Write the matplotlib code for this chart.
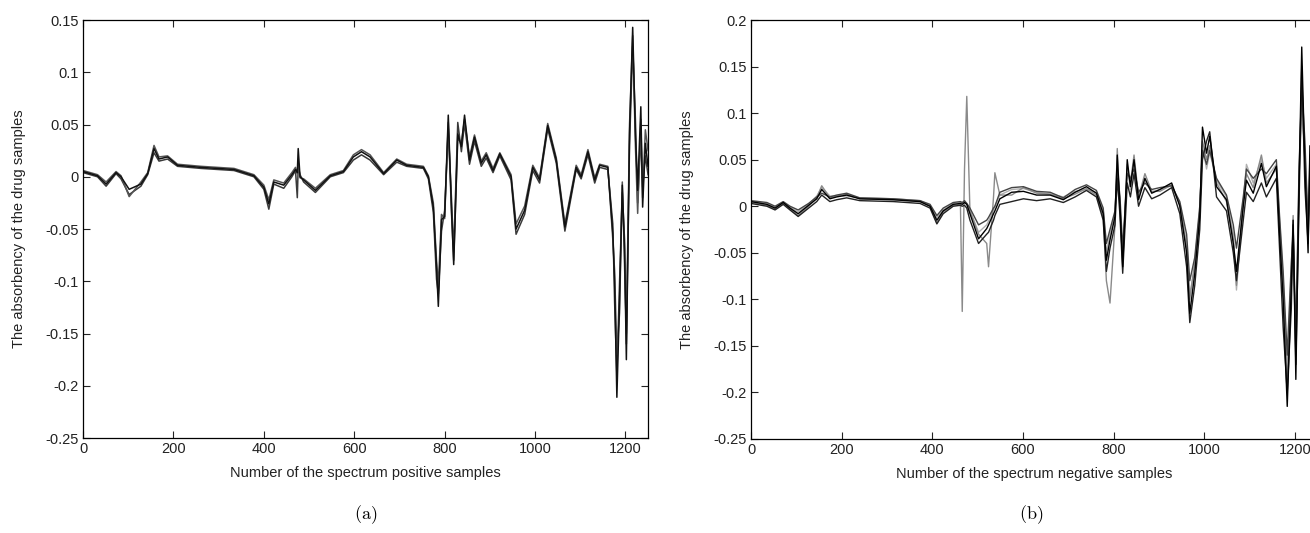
import matplotlib
matplotlib.use('Agg')
import matplotlib.pyplot as plt
from matplotlib.ticker import FuncFormatter

plt.rcParams['font.family'] = ['Liberation Sans', 'DejaVu Sans']
plt.rcParams['axes.unicode_minus'] = False
plt.rcParams['mathtext.fontset'] = 'cm'

# (a) positive samples: sample index and absorbency
xa = [0, 32, 51, 73, 84, 102, 128, 143, 157, 168,
      187, 209, 261, 334, 378, 400, 411, 422, 444, 462,
      470, 474, 476, 480, 488, 514, 547, 576, 598, 616,
      635, 665, 694, 716, 753, 764, 775, 782, 786, 793,
      800, 808, 815, 820, 829, 837, 844, 855, 866, 881,
      892, 907, 922, 947, 958, 977, 995, 1010, 1028, 1047,
      1066, 1091, 1102, 1117, 1132, 1143, 1161, 1172, 1176, 1181,
      1187, 1193, 1198, 1202, 1209, 1216, 1222, 1227, 1234, 1238,
      1244, 1250]
ya1 = [0.005, 0.001, -0.007, 0.004, 0.000, -0.012, -0.007, 0.003, 0.027, 0.017,
       0.019, 0.011, 0.009, 0.007, 0.001, -0.010, -0.026, -0.005, -0.008, 0.002,
       0.007, 0.004, 0.027, 0.000, -0.003, -0.013, 0.001, 0.005, 0.019, 0.024,
       0.019, 0.003, 0.016, 0.011, 0.009, 0.000, -0.029, -0.086, -0.124, -0.041,
       -0.038, 0.059, -0.029, -0.084, 0.041, 0.029, 0.059, 0.016, 0.038, 0.013,
       0.021, 0.006, 0.022, 0.000, -0.050, -0.032, 0.009, -0.003, 0.049, 0.016,
       -0.048, 0.009, 0.000, 0.024, -0.003, 0.011, 0.009, -0.054, -0.100, -0.211,
       -0.117, -0.008, -0.070, -0.175, 0.041, 0.143, 0.041, -0.013, 0.067, -0.029,
       0.032, 0.010]
ya2 = [0.004, 0.000, -0.009, 0.003, -0.002, -0.017, -0.009, 0.002, 0.023, 0.015,
       0.017, 0.010, 0.008, 0.006, 0.000, -0.012, -0.031, -0.007, -0.011, 0.000,
       0.006, -0.020, 0.010, 0.002, -0.005, -0.015, 0.000, 0.004, 0.016, 0.021,
       0.016, 0.002, 0.014, 0.010, 0.008, -0.002, -0.034, -0.098, -0.112, -0.052,
       -0.032, 0.046, -0.020, -0.072, 0.052, 0.024, 0.051, 0.012, 0.034, 0.010,
       0.018, 0.004, 0.020, -0.003, -0.055, -0.036, 0.006, -0.006, 0.046, 0.013,
       -0.052, 0.007, -0.002, 0.021, -0.006, 0.009, 0.007, -0.045, -0.120, -0.190,
       -0.100, -0.015, -0.060, -0.160, 0.030, 0.125, 0.055, -0.025, 0.040, -0.010,
       0.020, 0.002]
ya3 = [0.006, 0.002, -0.005, 0.005, 0.001, -0.019, -0.005, 0.004, 0.030, 0.019,
       0.020, 0.012, 0.010, 0.008, 0.002, -0.008, -0.022, -0.003, -0.006, 0.004,
       0.009, 0.003, 0.012, -0.001, -0.002, -0.011, 0.002, 0.006, 0.021, 0.026,
       0.021, 0.004, 0.017, 0.012, 0.010, 0.001, -0.025, -0.080, -0.104, -0.036,
       -0.040, 0.052, -0.034, -0.080, 0.036, 0.033, 0.055, 0.019, 0.040, 0.015,
       0.023, 0.008, 0.023, 0.002, -0.045, -0.028, 0.011, -0.001, 0.051, 0.018,
       -0.045, 0.011, 0.002, 0.026, -0.001, 0.012, 0.010, -0.060, -0.090, -0.170,
       -0.130, -0.005, -0.085, -0.150, 0.050, 0.135, 0.030, -0.035, 0.055, -0.020,
       0.045, 0.025]

# (b) negative samples
xb = [0, 35, 53, 71, 86, 104, 127, 145, 156, 174,
      189, 211, 240, 314, 373, 395, 410, 424, 446, 462,
      466, 471, 476, 483, 502, 520, 524, 535, 538, 549,
      575, 601, 630, 660, 689, 715, 740, 762, 777, 784,
      792, 803, 808, 814, 820, 830, 837, 845, 855, 869,
      884, 902, 928, 946, 961, 968, 979, 990, 996, 1005,
      1012, 1027, 1049, 1064, 1071, 1086, 1093, 1108, 1126, 1137,
      1159, 1166, 1174, 1183, 1192, 1196, 1202, 1209, 1215, 1222,
      1229, 1233, 1240, 1250]
yb1 = [0.005, 0.002, -0.002, 0.004, -0.002, -0.008, 0.001, 0.008, 0.018, 0.008,
       0.010, 0.012, 0.008, 0.007, 0.005, 0.000, -0.015, -0.005, 0.002, 0.003,
       0.002, 0.004, 0.002, -0.008, -0.035, -0.024, -0.020, -0.008, -0.005, 0.008,
       0.015, 0.016, 0.012, 0.012, 0.007, 0.015, 0.021, 0.014, -0.008, -0.058,
       -0.036, -0.011, 0.055, 0.000, -0.065, 0.050, 0.021, 0.050, 0.007, 0.030,
       0.014, 0.018, 0.025, 0.000, -0.050, -0.115, -0.072, -0.011, 0.085, 0.057,
       0.075, 0.021, 0.007, -0.040, -0.070, 0.000, 0.028, 0.014, 0.046, 0.021,
       0.043, -0.029, -0.100, -0.215, -0.086, -0.015, -0.186, 0.021, 0.171, 0.043,
       -0.050, 0.065, 0.000, 0.020]
yb2 = [0.006, 0.004, 0.000, 0.005, 0.000, -0.004, 0.003, 0.010, 0.014, 0.010,
       0.012, 0.014, 0.009, 0.008, 0.006, 0.002, -0.010, -0.002, 0.004, 0.005,
       0.004, 0.006, 0.003, -0.002, -0.020, -0.015, -0.012, -0.002, 0.000, 0.015,
       0.020, 0.021, 0.016, 0.015, 0.009, 0.018, 0.023, 0.017, -0.002, -0.040,
       -0.025, -0.005, 0.040, 0.010, -0.045, 0.035, 0.030, 0.040, 0.015, 0.025,
       0.018, 0.020, 0.022, 0.005, -0.030, -0.080, -0.055, 0.000, 0.060, 0.045,
       0.060, 0.030, 0.012, -0.020, -0.045, 0.010, 0.040, 0.030, 0.040, 0.035,
       0.050, -0.010, -0.070, -0.160, -0.060, -0.030, -0.140, 0.040, 0.130, 0.070,
       -0.020, 0.040, 0.010, 0.030]
yb3 = [0.003, 0.000, -0.004, 0.002, -0.004, -0.011, -0.002, 0.005, 0.012, 0.005,
       0.007, 0.009, 0.006, 0.005, 0.003, -0.002, -0.019, -0.008, 0.000, 0.001,
       0.000, 0.001, -0.002, -0.015, -0.040, -0.030, -0.028, -0.015, -0.010, 0.002,
       0.005, 0.008, 0.006, 0.008, 0.004, 0.010, 0.017, 0.010, -0.015, -0.070,
       -0.045, -0.020, 0.030, -0.010, -0.072, 0.025, 0.010, 0.035, 0.000, 0.020,
       0.008, 0.012, 0.020, -0.008, -0.065, -0.125, -0.085, -0.025, 0.050, 0.070,
       0.080, 0.010, -0.005, -0.050, -0.080, -0.015, 0.015, 0.005, 0.025, 0.010,
       0.030, -0.045, -0.130, -0.200, -0.110, -0.020, -0.170, 0.000, 0.150, 0.020,
       -0.040, 0.030, -0.020, 0.010]
yg1 = [0.004, 0.001, -0.003, 0.003, -0.003, -0.010, 0.000, 0.009, 0.022, 0.009,
       0.011, 0.013, 0.008, 0.007, 0.005, 0.000, -0.018, -0.006, 0.001, 0.002,
       -0.113, 0.040, 0.118, -0.005, -0.030, -0.040, -0.065, 0.010, 0.036, 0.012,
       0.012, 0.020, 0.014, 0.013, 0.008, 0.013, 0.019, 0.012, -0.012, -0.080,
       -0.104, -0.020, 0.062, -0.005, -0.060, 0.040, 0.025, 0.055, 0.010, 0.035,
       0.016, 0.016, 0.023, 0.002, -0.045, -0.100, -0.060, -0.005, 0.070, 0.050,
       0.065, 0.025, 0.005, -0.035, -0.085, 0.005, 0.035, 0.020, 0.055, 0.025,
       0.040, -0.020, -0.090, -0.190, -0.075, -0.010, -0.160, 0.030, 0.120, 0.050,
       -0.030, 0.055, 0.005, 0.015]
yg2 = [0.005, 0.003, -0.001, 0.004, -0.001, -0.006, 0.002, 0.011, 0.020, 0.011,
       0.011, 0.011, 0.009, 0.008, 0.006, 0.001, -0.012, -0.004, 0.003, 0.004,
       0.003, 0.005, 0.003, -0.004, -0.028, -0.020, -0.016, -0.004, 0.000, 0.012,
       0.018, 0.019, 0.015, 0.013, 0.010, 0.016, 0.018, 0.015, -0.005, -0.050,
       -0.030, -0.008, 0.048, 0.004, -0.055, 0.045, 0.018, 0.045, 0.012, 0.028,
       0.015, 0.018, 0.022, 0.003, -0.040, -0.095, -0.065, -0.005, 0.065, 0.040,
       0.058, 0.028, 0.010, -0.030, -0.090, 0.005, 0.045, 0.025, 0.050, 0.030,
       0.045, -0.015, -0.080, -0.175, -0.070, -0.020, -0.150, 0.030, 0.100, 0.060,
       -0.025, 0.050, 0.000, 0.020]

a_ticks = [-0.25, -0.2, -0.15, -0.1, -0.05, 0, 0.05, 0.1, 0.15]
b_ticks = [-0.25, -0.2, -0.15, -0.1, -0.05, 0, 0.05, 0.1, 0.15, 0.2]
x_ticks = [0, 200, 400, 600, 800, 1000, 1200]

fig = plt.figure(figsize=(13.1, 5.33), dpi=100)
ax1 = fig.add_axes([0.0634, 0.1782, 0.4313, 0.7842])
ax2 = fig.add_axes([0.5733, 0.1764, 0.4325, 0.7860])

for y, c in [(ya2, '#3a3a3a'), (ya3, '#555555'), (ya1, '#111111')]:
    ax1.plot(xa, y, color=c, lw=1.1)

for y, c in [(yg2, '#b0b0b0'), (yg1, '#8a8a8a'), (yb2, '#444444'),
             (yb3, '#222222'), (yb1, '#000000')]:
    ax2.plot(xb, y, color=c, lw=1.0)

fmt = FuncFormatter(lambda v, p: '%g' % v)
for ax, yt, lab in [(ax1, a_ticks, 'Number of the spectrum positive samples'),
                    (ax2, b_ticks, 'Number of the spectrum negative samples')]:
    ax.set_xlim(0, 1250)
    ax.set_ylim(yt[0], yt[-1])
    ax.set_xticks(x_ticks)
    ax.set_yticks(yt)
    ax.yaxis.set_major_formatter(fmt)
    ax.tick_params(direction='in', top=True, right=True, length=5, width=0.8,
                   labelsize=10.5, pad=3, colors='#222222')
    for s in ax.spines.values():
        s.set_linewidth(0.9)
    ax.set_xlabel(lab, fontsize=10.5, labelpad=7, color='#222222')
    ax.set_ylabel('The absorbency of the drug samples', fontsize=10.5,
                  labelpad=14, color='#222222')

fig.text(0.279, 0.035, r'$\mathrm{(a)}$', ha='center', va='center', fontsize=13)
fig.text(0.787, 0.035, r'$\mathrm{(b)}$', ha='center', va='center', fontsize=13)

fig.savefig('out.png', dpi=100)
